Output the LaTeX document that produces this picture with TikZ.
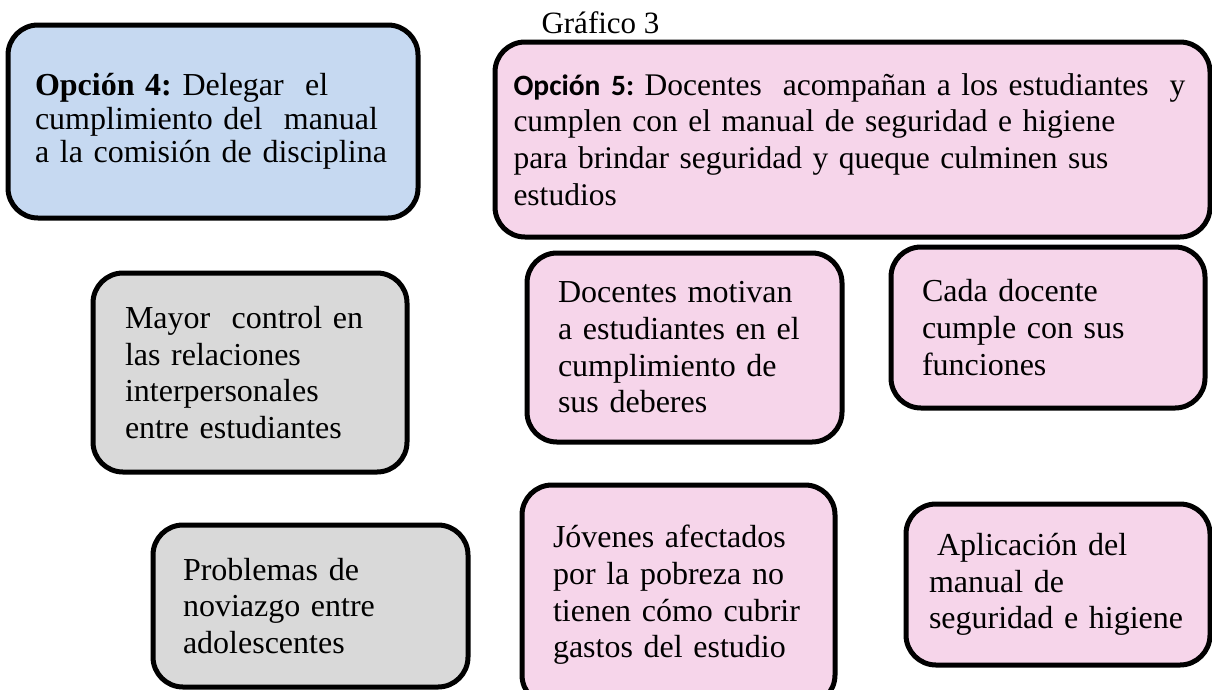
\documentclass[tikz,border=0pt]{standalone}
\usepackage{fontspec}
\setmainfont{Liberation Serif}
\newfontfamily\calibri{Carlito}
\usetikzlibrary{positioning}
\frenchspacing

\definecolor{azul}{HTML}{C6D9F1}
\definecolor{rosa}{HTML}{F6D5EA}
\definecolor{gris}{HTML}{D9D9D9}

\tikzset{
  caja/.style={draw, line width=5pt, rounded corners=30pt, inner sep=0pt,
    align=left, font=\fontsize{32}{36.7}\selectfont},
}

\begin{document}
\begin{tikzpicture}[x=1pt, y=-1pt]
\useasboundingbox (0,0) rectangle (1212,689);

\node[anchor=base west, font=\fontsize{31}{36}\selectfont] (titulo) at (538,33) {Gráfico 3};

% opciones
\node[caja, fill=azul, minimum width=410pt, minimum height=193pt, text width=356pt,
  font=\fontsize{32}{33.3}\selectfont] (op4) at (213,121.5)
  {\textbf{Opción 4:} Delegar\ \ el\\ cumplimiento del\ \ manual\\ a la comisión de disciplina};
\node[caja, fill=rosa, minimum width=715pt, minimum height=195pt, text width=678pt,
  font=\fontsize{31.5}{36.7}\selectfont] (op5) at (852.5,139.5)
  {{\calibri\bfseries\fontsize{29.5}{36.7}\selectfont Opción 5:} Docentes\ \ acompañan a los estudiantes\ \ y\\
   cumplen con el manual de seguridad e higiene\\
   para brindar seguridad y queque culminen sus\\ estudios};

% gris
\node[caja, fill=gris, minimum width=314pt, minimum height=199pt, text width=250pt] (control) at (250,372.5)
  {Mayor\ \ control en\\ las relaciones\\ interpersonales\\ entre estudiantes};
\node[caja, fill=gris, minimum width=315pt, minimum height=162pt, text width=255pt] (noviazgo) at (310.5,606)
  {Problemas de\\ noviazgo entre\\ adolescentes};

% rosa
\node[caja, fill=rosa, minimum width=315pt, minimum height=189pt, text width=253pt] (motivan) at (684.5,347.5)
  {Docentes motivan\\ a estudiantes en el\\ cumplimiento de\\ sus deberes};
\node[caja, fill=rosa, minimum width=314pt, minimum height=161pt, text width=252pt] (funciones) at (1048,327.5)
  {Cada docente\\ cumple con sus\\ funciones};
\node[caja, fill=rosa, minimum width=313pt, minimum height=220pt, text width=251pt] (pobreza) at (678.5,595)
  {Jóvenes afectados\\ por la pobreza no\\ tienen cómo cubrir\\ gastos del estudio};
\node[caja, fill=rosa, minimum width=304pt, minimum height=161pt, text width=258pt] (manual) at (1058,584.5)
  {\hspace*{0.25em}Aplicación del\\ manual de\\ seguridad e higiene};
\end{tikzpicture}
\end{document}
